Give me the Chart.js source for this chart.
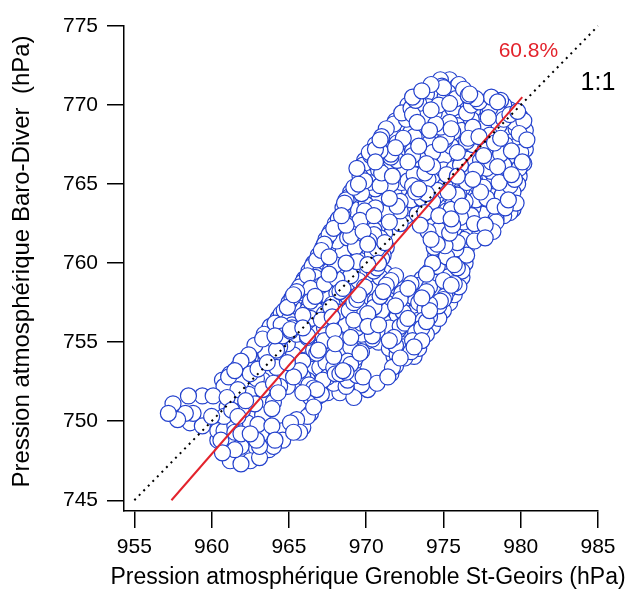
<!DOCTYPE html>
<html><head><meta charset="utf-8">
<script src="https://cdn.jsdelivr.net/npm/chart.js@4.4.1/dist/chart.umd.min.js"></script>
<style>html,body{margin:0;padding:0;background:#fff;}canvas{display:block;}</style>
</head><body>
<canvas id="c" width="630" height="592"></canvas>
<script>
const xTicks = [955, 960, 965, 970, 975, 980, 985];
const yTicks = [745, 750, 755, 760, 765, 770, 775];
const xTitle = 'Pression atmosphérique Grenoble St-Geoirs (hPa)';
const yTitle = 'Pression atmosphérique Baro-Diver  (hPa)';
const regressionLabel = '60.8%';
const identityLabel = '1:1';
const regressionX = [957.4, 980.1];
const regressionY = [745.0, 770.5];
const identityX = [955, 985];
const identityY = [745, 775];

const cloudLower = [
[957.5,751.1],[957.2,750.5],[958.3,750.5],[958.8,750.5],[958.5,751.6],[959.4,751.6],[960.1,751.6],[957.8,750.1],
[958.6,749.9],[959.4,749.7],[960.0,750.3],[960.8,750.3],[961.3,750.7],[961.0,751.5],[961.7,752.0],[961.9,752.5],
[960.7,752.6],[962.0,753.1],[962.6,753.4],[963.0,754.5],[963.9,754.9],[964.4,755.2],[965.1,755.8],[965.5,755.9],
[966.1,756.4],[961.2,753.0],[962.3,753.9],[961.7,753.4],[962.5,754.0],[963.6,754.9],[964.2,754.5],[964.9,754.9],
[964.6,755.4],[965.2,756.1],[965.9,755.9],[966.2,757.0],[966.6,757.5],[962.5,753.0],[963.3,752.6],[963.3,752.0],
[963.6,751.3],[963.3,750.4],[962.8,751.1],[961.7,751.1],[961.0,750.9],[960.8,749.4],[960.6,748.8],[961.2,749.2],
[961.9,749.2],[962.5,749.2],[962.3,749.9],[961.9,748.4],[962.5,748.2],[963.1,748.4],[961.0,748.0],
[960.4,749.4],[960.4,748.8],[960.7,748.0],[961.2,747.5],[961.9,747.3],[962.5,747.5],[963.1,747.7],[963.7,748.2],
[964.1,748.8],[964.6,749.4],[965.1,749.9],[965.5,750.1],[966.2,750.3],[966.6,750.9],[966.7,751.5],[966.6,752.1],
[964.0,748.4],[964.6,748.8],[965.3,749.3],[965.9,749.6],[966.4,750.5],[966.4,751.5],[965.9,751.8],[966.8,752.0],
[966.2,752.6],[965.7,753.2],[965.3,752.8],[964.9,752.2],[964.6,752.8],[964.2,753.4],[964.0,752.4],[964.9,753.7],
[965.5,754.0],[966.2,753.9],[966.6,754.5],[967.0,753.4],[967.2,752.6],[966.8,751.5],[967.5,751.8]
];

const cloudMiddle = [
[968.3,751.8],[969.2,751.5],[970.1,752.0],[970.7,752.4],[971.4,752.8],[971.7,753.4],[972.2,754.0],[972.4,754.7],
[972.6,755.1],[973.0,755.1],[973.3,755.8],[973.7,756.4],[974.1,757.0],[974.3,757.5],[967.9,752.4],[967.5,752.8],
[967.9,753.4],[968.3,753.0],[968.8,752.6],[968.5,753.9],[969.2,753.7],[968.3,754.5],[969.0,754.7],[969.4,754.9],
[970.1,755.1],
[966.6,755.0],[967.3,755.1],[968.0,754.9],[968.7,755.0],[970.8,755.0],[971.5,755.1],[972.2,754.9],[972.9,755.0],[973.6,755.1],
[966.9,754.5],[967.6,754.4],[969.7,754.4],[971.5,754.6],[972.9,754.4],[973.4,754.6],
[967.2,754.0],[967.9,754.1],[969.3,754.0],[971.8,754.1],[972.5,754.0],[973.1,754.1],
[967.6,753.5],[969.0,753.6],[971.9,753.5],[968.0,753.0],[968.7,753.1],[969.4,752.9],[971.6,753.0],
[963.4,755.5],[964.1,755.4],[964.8,755.6],[965.5,755.5],[966.2,755.4],[966.9,755.6],[967.6,755.5],[968.3,755.4],
[969.0,755.6],[969.7,755.5],[970.4,755.4],[971.1,755.6],[971.8,755.5],[972.5,755.4],[973.2,755.6],[973.9,755.5]
];

const cloudUpper = [
[963.8,756.0],[964.5,756.1],[965.2,755.9],[965.9,756.0],[966.6,756.1],[967.3,755.9],[968.0,756.0],[968.7,756.1],
[969.4,755.9],[970.1,756.0],[970.8,756.1],[971.5,755.9],[972.2,756.0],[972.9,756.1],[973.6,755.9],[974.3,756.0],
[964.3,756.5],[965.0,756.4],[965.7,756.6],[966.4,756.5],[967.1,756.4],[967.8,756.6],[968.5,756.5],[969.2,756.4],
[969.9,756.6],[970.6,756.5],[971.3,756.4],[972.0,756.6],[972.7,756.5],[973.4,756.4],[974.1,756.6],[974.7,756.5],
[964.7,757.0],[965.4,757.1],[966.1,756.9],[966.8,757.0],[967.5,757.1],[968.2,756.9],[968.9,757.0],[969.6,757.1],
[970.3,756.9],[971.0,757.0],[971.7,757.1],[972.4,756.9],[973.1,757.0],[973.8,757.1],[974.5,756.9],[975.0,757.0],
[965.0,757.5],[965.7,757.4],[966.4,757.6],[967.1,757.5],[967.8,757.4],[968.5,757.6],[969.2,757.5],[969.9,757.4],
[970.6,757.6],[971.3,757.5],[972.0,757.4],[972.7,757.6],[973.4,757.5],[974.1,757.4],[974.8,757.6],[975.4,757.5],
[965.3,758.0],[966.0,758.1],[966.7,757.9],[967.4,758.0],[968.1,758.1],[968.8,757.9],[969.5,758.0],[970.2,758.1],
[970.9,757.9],[971.6,758.0],[972.3,758.1],[973.0,757.9],[973.7,758.0],[974.4,758.1],[975.1,757.9],[975.7,758.0],
[965.7,758.5],[966.4,758.4],[967.1,758.6],[967.8,758.5],[968.5,758.4],[969.2,758.6],[969.9,758.5],[970.6,758.4],
[971.3,758.6],[972.0,758.5],[972.7,758.4],[973.4,758.6],[974.1,758.5],[974.8,758.4],[975.5,758.6],[976.0,758.5],
[966.0,759.0],[966.7,759.1],[967.4,758.9],[968.1,759.0],[968.8,759.1],[969.5,758.9],[970.2,759.0],[970.9,759.1],
[971.6,758.9],[973.6,759.0],[974.3,759.1],[975.0,758.9],[975.7,759.0],[976.2,759.1],
[966.3,759.5],[967.0,759.4],[967.7,759.6],[968.4,759.5],[969.1,759.4],[969.8,759.6],[970.5,759.5],[971.2,759.4],
[974.1,759.5],[974.8,759.6],[975.5,759.4],[976.2,759.5],
[966.6,760.0],[967.3,760.1],[968.0,759.9],[968.7,760.0],[969.4,760.1],[970.1,759.9],[970.8,760.0],[974.3,760.0],
[975.0,760.1],[975.7,759.9],[976.4,760.0],
[966.9,760.5],[967.6,760.4],[968.3,760.6],[969.0,760.5],[969.7,760.4],[970.4,760.6],[971.1,760.5],[974.5,760.5],
[975.2,760.4],[975.9,760.6],[976.5,760.5],
[967.2,761.0],[967.9,761.1],[968.6,760.9],[969.3,761.0],[970.0,761.1],[970.7,760.9],[971.3,761.0],[974.4,761.0],
[975.1,761.1],[975.8,760.9],[976.5,761.0],
[967.4,761.5],[968.1,761.4],[968.8,761.6],[969.5,761.5],[970.2,761.4],[970.9,761.6],[974.2,761.5],[974.9,761.4],
[975.6,761.6],[976.3,761.5],[977.0,761.4],[977.7,761.6],
[967.7,762.0],[968.4,762.1],[969.1,761.9],[969.8,762.0],[970.5,762.1],[971.2,761.9],[974.0,762.0],[974.7,762.1],
[975.4,761.9],[976.1,762.0],[976.8,762.1],[977.5,761.9],[978.2,762.0],
[968.0,762.5],[968.7,762.4],[969.4,762.6],[970.1,762.5],[970.8,762.4],[971.5,762.6],[972.2,762.5],[973.5,762.4],
[974.2,762.6],[974.9,762.5],[975.6,762.4],[976.3,762.6],[977.0,762.5],[977.7,762.4],[978.4,762.6],
[968.4,763.0],[969.1,763.1],[969.8,762.9],[970.5,763.0],[971.2,763.1],[971.9,762.9],[972.6,763.0],[973.3,763.1],
[974.0,762.9],[974.7,763.0],[975.4,763.1],[976.1,762.9],[976.8,763.0],[977.5,763.1],[978.2,762.9],[978.9,763.0],
[968.5,763.5],[969.2,763.4],[969.9,763.6],[970.6,763.5],[971.3,763.4],[972.0,763.6],[972.7,763.5],[973.4,763.4],
[974.1,763.6],[974.8,763.5],[975.5,763.4],[976.2,763.6],[976.9,763.5],[977.6,763.4],[978.3,763.6],[979.0,763.5],[979.5,763.4],
[968.7,764.0],[969.4,764.1],[970.1,763.9],[970.8,764.0],[971.5,764.1],[972.2,763.9],[972.9,764.0],[973.6,764.1],
[974.3,763.9],[975.0,764.0],[975.7,764.1],[976.4,763.9],[977.1,764.0],[977.8,764.1],[978.5,763.9],[979.2,764.0],
[969.0,764.5],[969.7,764.4],[970.4,764.6],[971.1,764.5],[971.8,764.4],[972.5,764.6],[973.2,764.5],[973.9,764.4],
[974.6,764.6],[975.3,764.5],[976.0,764.4],[976.7,764.6],[977.4,764.5],[978.1,764.4],[978.8,764.6],[979.5,764.5],
[969.5,765.0],[970.2,765.1],[970.9,764.9],[971.6,765.0],[972.3,765.1],[973.0,764.9],[973.7,765.0],[974.4,765.1],
[975.1,764.9],[975.8,765.0],[976.5,765.1],[977.2,764.9],[977.9,765.0],[978.6,765.1],[979.3,764.9],[979.8,765.0],
[969.6,765.5],[970.3,765.4],[971.0,765.6],[971.7,765.5],[972.4,765.4],[973.1,765.6],[973.8,765.5],[974.5,765.4],
[975.2,765.6],[975.9,765.5],[976.6,765.4],[977.3,765.6],[978.0,765.5],[978.7,765.4],[979.4,765.6],[979.9,765.5],
[969.4,766.0],[970.1,766.1],[970.8,765.9],[971.5,766.0],[972.2,766.1],[972.9,765.9],[973.6,766.0],[974.3,766.1],
[975.0,765.9],[975.7,766.0],[976.4,766.1],[977.1,765.9],[977.8,766.0],[978.5,766.1],[979.2,765.9],[979.9,766.0],
[969.9,766.5],[970.6,766.4],[971.3,766.6],[972.0,766.5],[972.7,766.4],[973.4,766.6],[974.1,766.5],[976.0,766.4],
[976.7,766.6],[977.4,766.5],[978.1,766.4],[978.8,766.6],[979.5,766.5],[980.1,766.4],
[970.2,767.0],[970.9,767.1],[971.6,766.9],[972.3,767.0],[973.0,767.1],[973.7,766.9],[974.3,767.0],[975.9,767.0],
[976.6,766.9],[977.3,767.1],[978.0,767.0],[978.7,766.9],[979.4,767.1],[980.0,767.0],
[970.6,767.5],[971.3,767.4],[972.0,767.6],[972.7,767.5],[973.4,767.4],[974.1,767.6],[974.8,767.5],[975.5,767.4],
[976.2,767.6],[976.9,767.5],[977.6,767.4],[978.3,767.6],[979.0,767.5],[979.7,767.4],[980.2,767.6],
[971.0,768.0],[971.7,768.1],[972.4,767.9],[973.1,768.0],[973.8,768.1],[974.5,767.9],[975.2,768.0],[975.9,768.1],
[976.6,767.9],[977.3,768.0],[978.0,768.1],[978.7,767.9],[979.4,768.0],[980.1,768.1],
[971.3,768.5],[972.0,768.4],[972.7,768.6],[973.4,768.5],[974.1,768.4],[974.8,768.6],[975.5,768.5],[976.2,768.4],
[976.9,768.6],[977.6,768.5],[978.3,768.4],[979.0,768.6],[979.7,768.5],[980.3,768.4],
[971.9,769.0],[972.6,769.1],[973.3,768.9],[974.0,769.0],[974.7,769.1],[975.4,768.9],[976.1,769.0],[976.8,769.1],
[977.5,768.9],[978.2,769.0],[978.9,769.1],[979.6,768.9],[980.2,769.0],
[972.3,769.5],[973.0,769.4],[973.7,769.6],[974.4,769.5],[975.1,769.4],[975.8,769.6],[976.5,769.5],[977.2,769.4],
[977.9,769.6],[978.6,769.5],[979.3,769.4],[979.8,769.6],
[972.7,770.0],[973.4,770.1],[974.0,769.9],[974.7,770.0],[975.4,770.1],[976.1,769.9],[976.8,770.0],[977.5,770.1],
[978.2,769.9],[978.9,770.0],
[973.0,770.5],[973.7,770.4],[974.4,770.6],[975.1,770.5],[975.8,770.4],[976.4,770.6],[977.1,770.4],[978.1,770.5],[978.7,770.3],
[973.6,770.9],[974.3,771.0],[975.0,771.1],[975.6,770.9],[976.3,771.0],[976.7,770.7],
[974.2,771.3],[974.8,771.6],[975.4,771.6],[976.0,771.3]
];

const cloudTangle = [
[974.9,771.2],[975.9,771.2],[973.9,770.7],[975.3,770.8],[976.6,770.6],
[973.2,770.3],[974.6,770.2],[975.7,770.3],[977.3,770.2],[978.5,770.2],
[972.9,769.8],[974.2,769.7],[975.6,769.8],[976.9,769.7],[978.0,769.8],[979.3,769.7],
[972.3,769.2],[973.8,769.3],[975.0,769.2],[976.4,769.3],[977.9,769.2],[979.2,769.3],[980.0,769.2],
[971.8,768.8],[973.1,768.7],[974.5,768.8],[975.9,768.7],[977.2,768.8],[978.6,768.7],[979.8,768.8],
[971.4,768.2],[972.9,768.3],[974.2,768.2],[975.6,768.3],[976.9,768.2],[978.4,768.3],[979.9,768.2],
[970.9,767.8],[972.4,767.7],[973.7,767.8],[975.1,767.8],[976.5,767.7],[977.8,767.8],[979.3,767.7],[980.4,767.8],
[970.6,767.2],[971.9,767.3],[973.2,767.2],[976.4,767.3],[977.7,767.2],[979.0,767.3],[980.3,767.2],
[970.3,766.8],[971.6,766.7],[973.0,766.8],[976.2,766.7],[977.6,766.8],[979.2,766.7],
[969.8,766.2],[971.2,766.3],[972.6,766.2],[973.9,766.3],[976.1,766.2],[977.5,766.3],[978.9,766.2],[980.2,766.3],
[969.7,765.8],[971.0,765.7],[972.5,765.8],[973.8,765.7],[975.2,765.8],[976.7,765.7],[978.1,765.8],[979.5,765.7],
[969.9,765.2],[971.3,765.3],[972.7,765.2],[974.0,765.3],[975.4,765.2],[976.9,765.3],[978.3,765.2],[979.6,765.3],
[969.2,764.8],[970.6,764.7],[972.0,764.8],[973.4,764.7],[974.8,764.8],[976.2,764.7],[977.6,764.8],[979.0,764.7],
[968.9,764.2],[970.3,764.3],[971.7,764.2],[973.1,764.3],[974.5,764.2],[975.9,764.3],[977.3,764.2],[978.8,764.3],
[968.6,763.8],[970.0,763.7],[971.4,763.8],[972.8,763.7],[974.2,763.8],[975.6,763.7],[977.0,763.8],[978.4,763.7],[979.7,763.8],
[968.5,763.2],[969.9,763.3],[971.3,763.2],[972.2,763.3],[973.8,763.2],[975.2,763.3],[976.6,763.2],[978.0,763.3],[979.3,763.2],
[968.2,762.8],[969.6,762.7],[971.0,762.8],[974.1,762.7],[975.5,762.8],[976.9,762.7],[978.4,762.8],
[967.9,762.2],[969.3,762.3],[970.7,762.2],[974.3,762.3],[975.7,762.2],[977.1,762.3],[978.0,762.2],
[967.6,761.8],[969.0,761.7],[970.5,761.8],[974.6,761.7],[976.0,761.8],[977.3,761.7],
[967.3,761.2],[968.7,761.3],[970.1,761.2],[971.2,761.3],[974.6,761.2],[975.9,761.3],
[967.1,760.8],[968.5,760.7],[969.9,760.8],[974.9,760.7],[976.2,760.8],
[966.8,760.2],[968.2,760.3],[969.6,760.2],[971.0,760.3],[974.7,760.2],[976.0,760.3],
[966.5,759.8],[967.9,759.7],[969.3,759.8],[970.7,759.7],[974.6,759.8],[975.9,759.7],
[966.2,759.2],[967.6,759.3],[969.0,759.2],[970.4,759.3],[971.9,759.2],[973.9,759.3],[975.3,759.2],
[965.9,758.8],[967.3,758.7],[968.7,758.8],[970.1,758.7],[971.5,758.8],[972.9,758.7],[974.4,758.8],[975.7,758.7],
[965.5,758.2],[966.9,758.3],[968.3,758.2],[969.7,758.3],[971.1,758.2],[972.5,758.3],[973.9,758.2],[975.3,758.3],
[965.2,757.8],[966.6,757.7],[968.0,757.8],[969.4,757.7],[970.8,757.8],[972.2,757.7],[973.6,757.8],[975.0,757.7],
[964.9,757.2],[966.3,757.3],[967.7,757.2],[969.1,757.3],[970.5,757.2],[971.9,757.3],[973.3,757.2],[974.7,757.3],
[964.5,756.8],[965.9,756.7],[967.3,756.8],[968.7,756.7],[970.1,756.8],[971.5,756.7],[972.9,756.8],[974.3,756.7],
[964.1,756.2],[965.5,756.3],[966.9,756.2],[968.3,756.3],[969.7,756.2],[971.1,756.3],[972.5,756.2],[973.9,756.3],
[963.7,755.8],[965.1,755.7],[966.5,755.8],[967.9,755.7],[969.3,755.8],[970.7,755.7],[972.1,755.8],[973.5,755.7],
[963.3,755.2],[966.2,755.3],[967.6,755.2],[969.0,755.3],[970.4,755.2],[971.8,755.3],[973.2,755.2],
[962.8,754.8],[964.4,754.7],[967.0,754.8],[968.4,754.7],[971.9,754.8],[973.1,754.7],
[962.4,754.2],[963.5,754.3],[965.3,754.2],[966.8,754.3],[968.0,754.2],[969.6,754.3],[972.0,754.2],
[961.9,753.8],[963.6,753.7],[965.9,753.8],[967.4,753.7],[968.8,753.8],
[961.5,753.2],[963.0,753.3],[964.6,753.2],[966.4,753.3],[968.5,753.2],
[961.1,752.8],[962.9,752.7],[965.9,752.8],[967.8,752.7],[969.8,752.8],
[960.8,752.2],[962.6,752.3],[964.4,752.2],[966.3,752.3],[968.7,752.2],[969.7,752.3],
[962.4,751.7],[964.3,751.8],[967.1,751.7],[962.2,751.3],[964.0,751.2],
[962.0,750.7],[963.9,750.8],[961.7,750.3],[961.5,749.7],[963.0,749.8],[963.9,749.7],
[961.5,749.3],[963.2,749.2],[965.7,749.3],[961.4,748.7],[962.9,748.8],[961.5,748.2],[962.9,748.3],[962.2,747.8]
];

const FONT = "'Liberation Sans', Arial, Helvetica, sans-serif";
const BLUE = 'rgb(35,65,205)';
const RED = '#e3232c';

// Drawing order only: interleave the sampled positions so overlaps look like the tangled original.
const orderKey = p => { const s = Math.sin(p[0] * 12.9898 + p[1] * 78.233) * 43758.5453; return s - Math.floor(s); };
const cloud = cloudLower.concat(cloudMiddle, cloudUpper, cloudTangle)
  .slice().sort((a, b) => orderKey(a) - orderKey(b))
  .map(p => ({x: p[0], y: p[1]}));
const pairs = (xs, ys) => xs.map((x, i) => ({x: x, y: ys[i]}));

const textPlugin = {
  id: 'texts',
  afterDraw(chart) {
    const {ctx, chartArea: a, scales: {x, y}} = chart;
    ctx.save();
    ctx.textAlign = 'center';
    ctx.textBaseline = 'middle';
    ctx.fillStyle = '#000';
    ctx.font = '23px ' + FONT;
    ctx.fillText(xTitle, (a.left + a.right) / 2 + 7, a.bottom + 67);
    ctx.save();
    ctx.translate(a.left - 102, (a.top + a.bottom) / 2 - 7);
    ctx.rotate(-Math.PI / 2);
    ctx.font = '24px ' + FONT;
    ctx.fillText(yTitle, 0, 0);
    ctx.restore();
    ctx.fillStyle = RED;
    ctx.font = '21px ' + FONT;
    ctx.fillText(regressionLabel, x.getPixelForValue(980.5), y.getPixelForValue(773.4));
    ctx.fillStyle = '#000';
    ctx.font = '25px ' + FONT;
    ctx.fillText(identityLabel, x.getPixelForValue(985.0), y.getPixelForValue(771.4));
    ctx.restore();
  }
};

new Chart(document.getElementById('c'), {
  type: 'scatter',
  data: {
    datasets: [
      {data: pairs(identityX, identityY), showLine: true, borderColor: '#000', borderWidth: 2,
       borderDash: [2, 4.5], pointRadius: 0, order: 0, clip: false},
      {data: pairs(regressionX, regressionY), showLine: true, borderColor: RED, borderWidth: 2,
       pointRadius: 0, order: 0, clip: false},
      {data: cloud, pointRadius: 8, pointBorderWidth: 1.2, pointBorderColor: BLUE,
       pointBackgroundColor: '#fff', showLine: false, order: 1}
    ]
  },
  options: {
    responsive: false,
    animation: false,
    layout: {padding: {left: 0, right: 32, top: 26, bottom: 0}},
    plugins: {legend: {display: false}, tooltip: {enabled: false}},
    scales: {
      x: {
        type: 'linear', min: 954.33, max: 985,
        afterBuildTicks: s => { s.ticks = xTicks.map(v => ({value: v})); },
        afterFit: s => { s.height = 81; },
        grid: {drawOnChartArea: false, drawTicks: true, tickLength: 17, color: '#000', lineWidth: 1.5},
        border: {display: true, color: '#000', width: 1.5},
        ticks: {color: '#000', font: {family: FONT, size: 21}, padding: 7, maxRotation: 0, autoSkip: false}
      },
      y: {
        type: 'linear', min: 744.32, max: 775,
        afterBuildTicks: s => { s.ticks = yTicks.map(v => ({value: v})); },
        afterFit: s => { s.width = 124; },
        grid: {drawOnChartArea: false, drawTicks: true, tickLength: 17, color: '#000', lineWidth: 1.5},
        border: {display: true, color: '#000', width: 1.5},
        ticks: {color: '#000', font: {family: FONT, size: 21}, padding: 9, autoSkip: false}
      }
    }
  },
  plugins: [textPlugin]
});
</script>
</body></html>
